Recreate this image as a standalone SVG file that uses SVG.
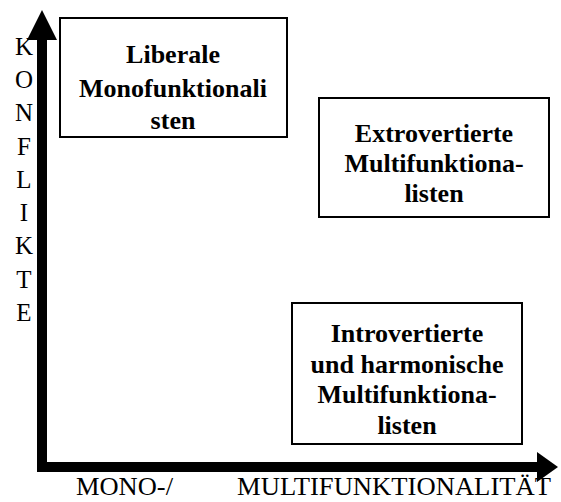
<svg xmlns="http://www.w3.org/2000/svg" width="561" height="502" viewBox="0 0 561 502">
<style>
.box{fill:#fff;stroke:#000;stroke-width:2}
.bt{font-family:"Liberation Serif","Times New Roman",serif;font-weight:bold;font-size:26px;text-anchor:middle;fill:#000}
.ax{font-family:"Liberation Serif","Times New Roman",serif;font-size:25px;fill:#000}
.vl{font-family:"Liberation Serif","Times New Roman",serif;font-size:25px;fill:#000;text-anchor:middle}
</style>
<rect width="561" height="502" fill="#fff"/>
<g id="connectors">
<path d="M37 40 L47 40 L47 472 L37 472 Z" fill="#000"/>
<polygon points="42,10 27,40 57,40" fill="#000"/>
<rect x="37" y="462" width="500" height="10" fill="#000"/>
<polygon points="558,467 537,452 537,482" fill="#000"/>
</g>
<g id="y-label">
<text class="vl" x="24" y="55">K</text>
<text class="vl" x="24" y="88">O</text>
<text class="vl" x="24" y="121">N</text>
<text class="vl" x="24" y="155">F</text>
<text class="vl" x="24" y="188">L</text>
<text class="vl" x="24" y="221">I</text>
<text class="vl" x="24" y="254">K</text>
<text class="vl" x="24" y="288">T</text>
<text class="vl" x="24" y="321">E</text>
</g>
<g id="x-label">
<text class="ax" x="76" y="495" textLength="97" lengthAdjust="spacingAndGlyphs">MONO-/</text>
<text class="ax" x="237" y="495" textLength="314" lengthAdjust="spacingAndGlyphs">MULTIFUNKTIONALITÄT</text>
</g>
<g id="node-liberale">
<rect class="box" x="60" y="18" width="227" height="119"/>
<text class="bt" x="173" y="63">Liberale</text>
<text class="bt" x="173" y="97">Monofunktionali</text>
<text class="bt" x="173" y="129">sten</text>
</g>
<g id="node-extrovertierte">
<rect class="box" x="319" y="98" width="230" height="119"/>
<text class="bt" x="434" y="142">Extrovertierte</text>
<text class="bt" x="434" y="172">Multifunktiona-</text>
<text class="bt" x="434" y="202">listen</text>
</g>
<g id="node-introvertierte">
<rect class="box" x="292" y="303" width="230" height="141"/>
<text class="bt" x="407" y="342">Introvertierte</text>
<text class="bt" x="407" y="373">und harmonische</text>
<text class="bt" x="407" y="403">Multifunktiona-</text>
<text class="bt" x="407" y="434">listen</text>
</g>
</svg>
